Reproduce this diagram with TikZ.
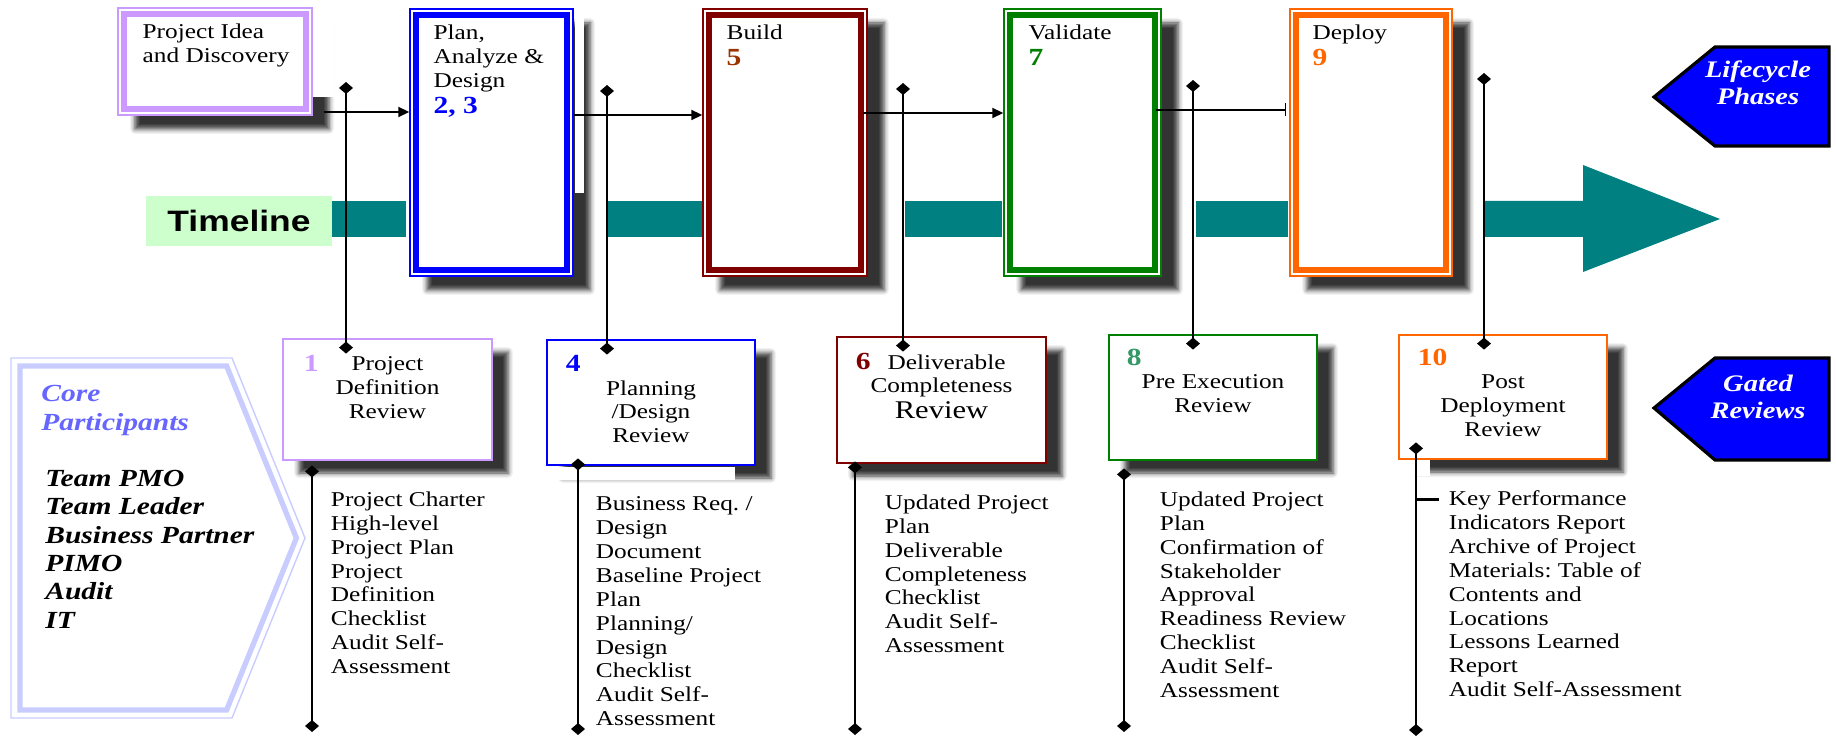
\documentclass[tikz,border=0pt]{standalone}
\usepackage{fontspec}
\setmainfont{Liberation Serif}[FakeStretch=1.2]
\newfontfamily\tlfont{Liberation Sans}[FakeStretch=1.2]
\usetikzlibrary{arrows.meta,positioning,fit,calc,shadows.blur}
\definecolor{lav}{HTML}{CC99FF}
\definecolor{buildred}{HTML}{800000}
\definecolor{rust}{HTML}{993300}
\definecolor{vgreen}{HTML}{008000}
\definecolor{seagreen}{HTML}{339966}
\definecolor{dorange}{HTML}{FF6600}
\definecolor{tlteal}{HTML}{008080}
\definecolor{tlgreen}{HTML}{CCFFCC}
\definecolor{corebd}{HTML}{C8CCFF}
\definecolor{coretxt}{HTML}{6666FF}
\frenchspacing

\begin{document}
\begin{tikzpicture}[x=0.02cm, y=-0.02cm, font=\fontsize{12}{13.6}\selectfont,
    phasebox/.style={draw=#1,line width=0.8pt,fill=white,inner sep=0pt,
      blur shadow={shadow xshift=0.34cm,shadow yshift=-0.28cm,shadow blur radius=0.1cm,shadow opacity=80}},
    phaseframe/.style={draw=#1,line width=3.6pt},
    gatebox/.style={draw=#1,line width=1.6pt,fill=white,inner sep=0pt,
      blur shadow={shadow xshift=0.32cm,shadow yshift=-0.26cm,shadow blur radius=0.1cm,shadow opacity=80}},
    ptext/.style={inner sep=0pt,align=left},
    gtext/.style={inner sep=0pt,align=center},
    gnum/.style={inner sep=0pt,text=#1,font=\fontsize{14}{16}\selectfont\bfseries},
    deliv/.style={inner sep=0pt,align=left},
    flow/.style={line width=1pt,arrows={-Triangle[length=0.22cm,width=0.2cm]}},
    gatelink/.style={line width=1.3pt,arrows={Diamond[length=0.24cm,width=0.28cm]-Diamond[length=0.24cm,width=0.28cm]}},
    tag/.style={draw=black,line width=1.8pt,fill=blue},
    tagtext/.style={inner sep=0pt,text=white,align=center,font=\fontsize{13.5}{15.3}\selectfont\bfseries\itshape},
    tlabel/.style={fill=tlgreen,minimum width=3.72cm,minimum height=1cm,inner sep=0pt,font=\tlfont\fontsize{16.8}{18}\selectfont\bfseries},
    coretext/.style={inner sep=0pt,align=left,text=coretxt,font=\fontsize{14}{16.4}\selectfont\bfseries\itshape},
    team/.style={inner sep=0pt,align=left,font=\fontsize{14}{16.1}\selectfont\bfseries\itshape}]
\useasboundingbox (0,0) rectangle (1836,736);

% timeline
\node[tlabel] (timeline) at (239,221) {Timeline};
\fill[tlteal] (332,201) rectangle (406,237);
\fill[tlteal] (608,201) rectangle (702,237);
\fill[tlteal] (905,201) rectangle (1002,237);
\fill[tlteal] (1196,201) rectangle (1288,237);
\fill[tlteal] (1485,201) -- (1583,201) -- (1583,165) -- (1720,219) -- (1583,272) -- (1583,237) -- (1485,237) -- cycle;

% core participants
\draw[corebd,line width=0.8pt] (11,358) -- (232,358) -- (305,538) -- (232,718) -- (11,718) -- cycle;
\draw[corebd,line width=3pt] (20,366) -- (226.6,366) -- (296.4,538) -- (226.6,710) -- (20,710) -- cycle;
\node[coretext,anchor=north west] (core) at (41,385) {Core\\Participants};
\node[team,anchor=north west] (team) at (45,470) {Team PMO\\Team Leader\\Business Partner\\PIMO\\Audit\\IT};

% lifecycle phases
\node[phasebox=lav,fit={(118,8) (312,115)}] (idea) {};
\fill[white] (313,0) rectangle (334,97);
\draw[phaseframe=lav] ([shift={(7,7)}]idea.north west) rectangle ([shift={(-7,-7)}]idea.south east);
\node[ptext,below right=0.32cm and 0.5cm of idea.north west] (ideat) {Project Idea\\and Discovery};

\node[phasebox=blue,fit={(410,9) (573,276)}] (plan) {};
\fill[white] (574.5,0) rectangle (584,193);
\draw[phaseframe=blue] ([shift={(7,7)}]plan.north west) rectangle ([shift={(-7,-7)}]plan.south east);
\node[ptext,below right=0.32cm and 0.48cm of plan.north west] (plant) {Plan,\\Analyze \&\\Design\\[1.6pt]\textcolor{blue}{\fontsize{14}{16}\selectfont\bfseries 2, 3}};

\node[phasebox=buildred,fit={(703,9) (867,276)}] (build) {};
\draw[phaseframe=buildred] ([shift={(7,7)}]build.north west) rectangle ([shift={(-7,-7)}]build.south east);
\node[ptext,below right=0.32cm and 0.48cm of build.north west] (buildt) {Build\\[1.6pt]\textcolor{rust}{\fontsize{14}{16}\selectfont\bfseries 5}};

\node[phasebox=vgreen,fit={(1004,9) (1161,276)}] (valid) {};
\draw[phaseframe=vgreen] ([shift={(7,7)}]valid.north west) rectangle ([shift={(-7,-7)}]valid.south east);
\node[ptext,below right=0.32cm and 0.5cm of valid.north west] (validt) {Validate\\[1.6pt]\textcolor{vgreen}{\fontsize{14}{16}\selectfont\bfseries 7}};

\node[phasebox=dorange,fit={(1290,9) (1452,276)}] (deploy) {};
\draw[phaseframe=dorange] ([shift={(7,7)}]deploy.north west) rectangle ([shift={(-7,-7)}]deploy.south east);
\node[ptext,below right=0.32cm and 0.46cm of deploy.north west] (deployt) {Deploy\\[1.6pt]\textcolor{dorange}{\fontsize{14}{16}\selectfont\bfseries 9}};

% gated reviews
\node[gatebox=lav,fit={(283,339) (492,460)}] (g1) {};
\node[gnum=lav,below right=0.34cm and 0.44cm of g1.north west] (g1n) {1};
\node[gtext,below=0.37cm of g1.north] (g1t) {Project\\Definition\\Review};

\node[gatebox=blue,fit={(547,340) (755,465)}] (g2) {};
\fill[white] (558,466.5) rectangle (735,480);
\node[gnum=blue,below right=0.33cm and 0.4cm of g2.north west] (g2n) {4};
\node[gtext,below=0.83cm of g2.north] (g2t) {Planning\\/Design\\Review};

\node[gatebox=buildred,fit={(837,337) (1046,463)}] (g3) {};
\node[gnum=buildred,below right=0.35cm and 0.4cm of g3.north west] (g3n) {6};
\node[gtext,below=0.37cm of g3.north] (g3t) {\hspace*{0.2cm}Deliverable\\Completeness\\[1pt]{\fontsize{14.5}{16}\selectfont Review}};

\node[gatebox=vgreen,fit={(1109,335) (1317,460)}] (g4) {};
\node[gnum=seagreen,below right=0.31cm and 0.38cm of g4.north west] (g4n) {8};
\node[gtext,below=0.81cm of g4.north] (g4t) {Pre Execution\\Review};

\node[gatebox=dorange,fit={(1399,335) (1607,459)}] (g5) {};
\fill[white] (1406,460.5) rectangle (1430,476);
\node[gnum=dorange,below right=0.31cm and 0.4cm of g5.north west] (g5n) {10};
\node[gtext,below=0.81cm of g5.north] (g5t) {Post\\Deployment\\Review};

% deliverables
\node[deliv,below right=0.6cm and 0.98cm of g1.south west] (d1) {Project Charter\\High-level\\Project Plan\\Project\\Definition\\Checklist\\Audit Self-\\Assessment};
\node[deliv,below right=0.6cm and 1cm of g2.south west] (d2) {Business Req. /\\Design\\Document\\Baseline Project\\Plan\\Planning/\\Design\\Checklist\\Audit Self-\\Assessment};
\node[deliv,below right=0.6cm and 0.98cm of g3.south west] (d3) {Updated Project\\Plan\\Deliverable\\Completeness\\Checklist\\Audit Self-\\Assessment};
\node[deliv,below right=0.6cm and 1.04cm of g4.south west] (d4) {Updated Project\\Plan\\Confirmation of\\Stakeholder\\Approval\\Readiness Review\\Checklist\\Audit Self-\\Assessment};
\node[deliv,below right=0.6cm and 1.02cm of g5.south west] (d5) {Key Performance\\Indicators Report\\Archive of Project\\Materials: Table of\\Contents and\\Locations\\Lessons Learned\\Report\\Audit Self-Assessment};

% phase flow
\draw[flow] ($(idea.east |- 0,112)+(11,0)$) -- (plan.west |- 0,112);
\draw[flow] (plan.east |- 0,115) -- (build.west |- 0,115);
\draw[flow] ($(build.east |- 0,113)+(-5,0)$) -- (valid.west |- 0,113);
\draw[flow,arrows={-Bar[width=0.26cm]}] ($(valid.east |- 0,110)+(-6,0)$) -- ($(deploy.west |- 0,110)+(-3,0)$);

% phase to gate links
\coordinate (p1) at (346,82);
\coordinate (p2) at (607,85);
\coordinate (p3) at (903,83);
\coordinate (p4) at (1193,80);
\coordinate (p5) at (1484,73);
\draw[gatelink] (p1) -- ($(p1 |- g1.north)+(0,16)$);
\draw[gatelink] (p2) -- ($(p2 |- g2.north)+(0,16)$);
\draw[gatelink] (p3) -- ($(p3 |- g3.north)+(0,16)$);
\draw[gatelink] (p4) -- ($(p4 |- g4.north)+(0,16)$);
\draw[gatelink] (p5) -- ($(p5 |- g5.north)+(0,16)$);

% gate to deliverables
\coordinate (q1) at (312,732);
\coordinate (q2) at (578,735);
\coordinate (q3) at (855,735);
\coordinate (q4) at (1124,732);
\coordinate (q5) at (1416,736);
\draw[gatelink] ($(q1 |- g1.south)+(0,4)$) -- (q1);
\draw[gatelink] ($(q2 |- g2.south)+(0,-8)$) -- (q2);
\draw[gatelink] ($(q3 |- g3.south)+(0,-3)$) -- (q3);
\draw[gatelink] ($(q4 |- g4.south)+(0,7)$) -- (q4);
\draw[gatelink] ($(q5 |- g5.south)+(0,-18)$) -- (q5);
\draw[line width=1.3pt] ($(q5 |- d5.north)+(0,9)$) -- ($(d5.north west)+(-10,9)$);

% legend tags
\draw[tag] (1654,97) -- (1715,47) -- (1829,47) -- (1829,146) -- (1715,146) -- cycle;
\node[tagtext] (lcp) at (1758,83) {Lifecycle\\Phases};
\draw[tag] (1654,408) -- (1715,358) -- (1829,358) -- (1829,460) -- (1715,460) -- cycle;
\node[tagtext] (gtr) at (1758,397) {Gated\\Reviews};
\end{tikzpicture}
\end{document}
